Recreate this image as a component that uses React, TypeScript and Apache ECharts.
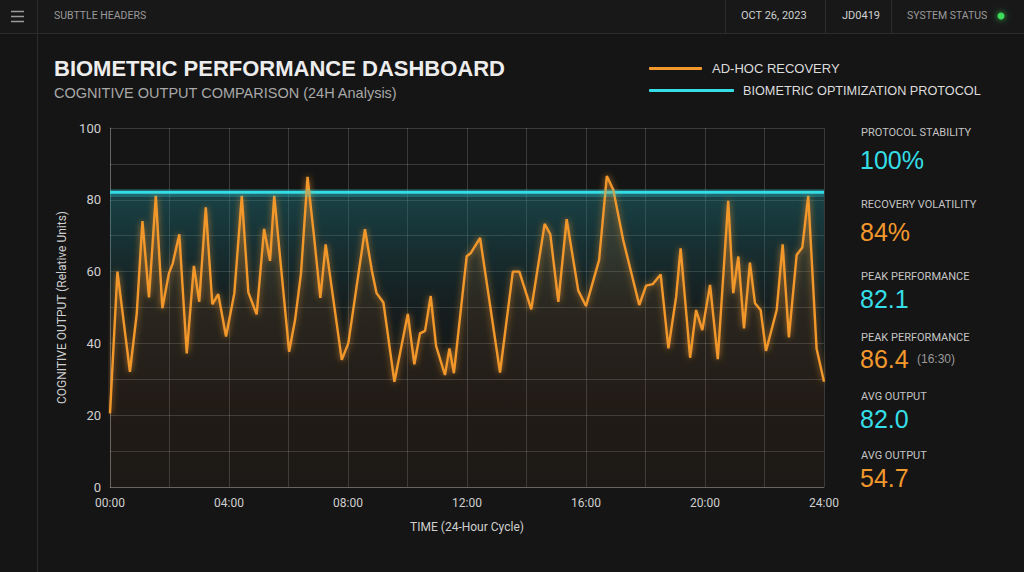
import React, { useEffect, useRef } from "react";
import * as echarts from "echarts";

const HOURS = [
  0.0, 0.25, 0.67, 0.9, 1.09, 1.31, 1.54, 1.76, 1.98, 2.11, 2.33, 2.58, 2.82, 3.0, 3.22, 3.44, 3.64, 3.9,
  4.18, 4.43, 4.65, 4.93, 5.18, 5.38, 5.52, 6.02, 6.22, 6.42, 6.64, 6.86, 7.07, 7.25, 7.79, 8.01, 8.57,
  8.8, 8.96, 9.19, 9.56, 10.01, 10.23, 10.42, 10.59, 10.78, 10.96, 11.26, 11.41, 11.56, 11.99, 12.12,
  12.44, 13.11, 13.54, 13.76, 14.16, 14.61, 14.8, 15.07, 15.35, 15.74, 16.0, 16.44, 16.7, 16.92, 17.25,
  17.79, 18.02, 18.24, 18.51, 18.77, 19.03, 19.18, 19.5, 19.7, 19.91, 20.17, 20.43, 20.78, 20.95, 21.12,
  21.31, 21.51, 21.68, 21.87, 22.05, 22.41, 22.61, 22.82, 23.08, 23.27, 23.47, 23.75, 24.0,
];
const RECOVERY = [
  20.5, 60.0, 32.1, 48.4, 74.1, 52.8, 81.1, 49.8, 59.5, 62.3, 70.4, 37.2, 61.6, 51.6, 77.9, 50.9, 53.7, 41.9,
  54.0, 81.1, 54.2, 48.1, 71.9, 63.0, 81.1, 37.7, 46.5, 59.5, 86.4, 69.7, 52.7, 67.6, 35.4, 40.0, 71.8,
  60.4, 54.0, 51.4, 29.3, 48.2, 34.2, 42.8, 43.5, 53.2, 39.3, 31.2, 38.6, 31.7, 64.3, 65.1,
  69.4, 31.9, 60.0, 60.0, 49.5, 73.3, 70.4, 51.6, 74.6, 54.7, 50.4, 63.2, 86.6, 82.7, 68.8,
  50.7, 56.1, 56.5, 59.2, 38.6, 53.0, 66.5, 36.0, 49.3, 43.7, 56.3, 35.6, 79.7, 54.0, 64.2,
  44.2, 62.5, 51.2, 49.3, 37.9, 49.3, 67.6, 41.7, 64.6, 66.7, 81.1, 38.6, 29.3,
];
const PROTOCOL_LEVEL = 82.1;
const SERIES_NAMES = ["AD-HOC RECOVERY", "BIOMETRIC OPTIMIZATION PROTOCOL"];
const HEADER_ITEMS = ["SUBTTLE HEADERS", "OCT 26, 2023", "JD0419", "SYSTEM STATUS"];
const STAT_LABELS = [
  "PROTOCOL STABILITY",
  "RECOVERY VOLATILITY",
  "PEAK PERFORMANCE",
  "PEAK PERFORMANCE",
  "AVG OUTPUT",
  "AVG OUTPUT",
];
const STAT_VALUES = ["100%", "84%", "82.1", "86.4", "82.0", "54.7"];
const STAT_NOTE = "(16:30)";

const ORANGE = "#f2982c";
const CYAN = "#35dde6";
const FONT = "'Liberation Sans', Arial, sans-serif";
const HFONT = "Roboto, 'Liberation Sans', sans-serif";

export default function App() {
  const ref = useRef<HTMLDivElement>(null);
  useEffect(() => {
    if (!ref.current) return;
    const chart = echarts.init(ref.current, null, { renderer: "svg" });
    const labelY = [133, 205, 277, 338, 397, 456];
    const valueY = [159, 231, 298, 358, 418, 477];
    const statGraphics: any[] = [];
    STAT_LABELS.forEach((l, i) => {
      statGraphics.push({
        type: "text",
        left: 861,
        top: labelY[i] - 6,
        style: { text: l, fill: "#c4c4c4", font: `11px ${HFONT}` },
      });
      statGraphics.push({
        type: "text",
        left: 860,
        top: valueY[i] - 12,
        style: { text: STAT_VALUES[i], fill: i % 2 === 0 ? CYAN : ORANGE, font: `25px ${FONT}` },
      });
    });
    statGraphics.push({
      type: "text",
      left: 917,
      top: 353,
      style: { text: STAT_NOTE, fill: "#9a9a9a", font: `12px ${FONT}` },
    });

    chart.setOption({
      animation: false,
      backgroundColor: "#151515",
      textStyle: { fontFamily: FONT },
      legend: [
        {
          data: [SERIES_NAMES[0]],
          left: 644,
          top: 57,
          icon: "roundRect",
          itemWidth: 53,
          itemHeight: 3,
          textStyle: { color: "#dcdcdc", fontSize: 13, padding: [0, 0, 0, 5] },
          selectedMode: false,
        },
        {
          data: [SERIES_NAMES[1]],
          left: 644,
          top: 79,
          icon: "roundRect",
          itemWidth: 85,
          itemHeight: 3,
          textStyle: { color: "#dcdcdc", fontSize: 12.7, padding: [0, 0, 0, 4] },
          selectedMode: false,
        },
      ],
      grid: { left: 110, right: 200, top: 128, bottom: 85 },
      xAxis: {
        type: "value",
        min: 0,
        max: 24,
        interval: 2,
        name: "TIME (24-Hour Cycle)",
        nameLocation: "middle",
        nameGap: 34,
        nameTextStyle: { color: "#cfcfcf", fontSize: 12, fontFamily: HFONT },
        axisLine: { show: true, lineStyle: { color: "rgba(255,255,255,0.22)" } },
        axisTick: { show: false },
        axisLabel: {
          color: "#cfcfcf",
          fontSize: 12,
          fontFamily: HFONT,
          margin: 10,
          formatter: (v: number) => (v % 4 === 0 ? `${String(v).padStart(2, "0")}:00` : ""),
        },
        splitLine: { show: true, lineStyle: { color: "rgba(255,255,255,0.16)" } },
      },
      yAxis: {
        type: "value",
        min: 0,
        max: 100,
        interval: 10,
        name: "COGNITIVE OUTPUT (Relative Units)",
        nameLocation: "middle",
        nameRotate: 90,
        nameGap: 42,
        nameTextStyle: { color: "#cfcfcf", fontSize: 12, fontFamily: HFONT },
        axisLine: { show: true, lineStyle: { color: "rgba(255,255,255,0.22)" } },
        axisTick: { show: false },
        axisLabel: {
          color: "#cfcfcf",
          fontSize: 13,
          fontFamily: HFONT,
          margin: 9,
          formatter: (v: number) => (v % 20 === 0 ? String(v) : ""),
        },
        splitLine: { show: true, lineStyle: { color: "rgba(255,255,255,0.16)" } },
      },
      series: [
        {
          name: SERIES_NAMES[1],
          type: "line",
          data: [
            [0, PROTOCOL_LEVEL],
            [24, PROTOCOL_LEVEL],
          ],
          symbol: "none",
          z: 2,
          lineStyle: { color: CYAN, width: 3 },
          itemStyle: { color: CYAN },
          areaStyle: {
            color: new echarts.graphic.LinearGradient(0, 0, 0, 1, [
              { offset: 0, color: "rgba(30,130,140,0.6)" },
              { offset: 0.4, color: "rgba(25,100,110,0.15)" },
              { offset: 0.7, color: "rgba(25,100,110,0)" },
            ]),
          },
          markLine: {
            silent: true,
            symbol: "none",
            label: { show: false },
            lineStyle: { color: "rgba(53,221,230,0.25)", width: 8, type: "solid" },
            data: [{ yAxis: PROTOCOL_LEVEL }],
          },
        },
        {
          name: SERIES_NAMES[0],
          type: "line",
          data: HOURS.map((h, i) => [h, RECOVERY[i]]),
          symbol: "none",
          z: 3,
          lineStyle: { color: ORANGE, width: 2.4, shadowColor: "rgba(240,150,46,0.7)", shadowBlur: 6 },
          itemStyle: { color: ORANGE },
          areaStyle: {
            color: new echarts.graphic.LinearGradient(0, 0, 0, 1, [
              { offset: 0, color: "rgba(200,120,40,0.28)" },
              { offset: 0.5, color: "rgba(180,100,35,0.16)" },
              { offset: 1, color: "rgba(150,90,40,0.08)" },
            ]),
          },
        },
      ],
      graphic: [
        { type: "rect", shape: { x: 0, y: 0, width: 1024, height: 33 }, style: { fill: "#181818" }, z: -1 },
        { type: "line", shape: { x1: 0, y1: 33.5, x2: 1024, y2: 33.5 }, style: { stroke: "#2c2c2c", lineWidth: 1 } },
        { type: "line", shape: { x1: 37.5, y1: 0, x2: 37.5, y2: 572 }, style: { stroke: "#2c2c2c", lineWidth: 1 } },
        { type: "line", shape: { x1: 725.5, y1: 0, x2: 725.5, y2: 33 }, style: { stroke: "#2c2c2c", lineWidth: 1 } },
        { type: "line", shape: { x1: 825.5, y1: 0, x2: 825.5, y2: 33 }, style: { stroke: "#2c2c2c", lineWidth: 1 } },
        { type: "line", shape: { x1: 891.5, y1: 0, x2: 891.5, y2: 33 }, style: { stroke: "#2c2c2c", lineWidth: 1 } },
        { type: "line", shape: { x1: 11, y1: 11.5, x2: 24, y2: 11.5 }, style: { stroke: "#9a9a9a", lineWidth: 1.5 } },
        { type: "line", shape: { x1: 11, y1: 16.5, x2: 24, y2: 16.5 }, style: { stroke: "#9a9a9a", lineWidth: 1.5 } },
        { type: "line", shape: { x1: 11, y1: 21.5, x2: 24, y2: 21.5 }, style: { stroke: "#9a9a9a", lineWidth: 1.5 } },
        { type: "text", left: 54, top: 10, style: { text: HEADER_ITEMS[0], fill: "#9a9a9a", font: `10.5px ${HFONT}` } },
        { type: "text", left: 741, top: 10, style: { text: HEADER_ITEMS[1], fill: "#d0d0d0", font: `11px ${HFONT}` } },
        { type: "text", left: 842, top: 10, style: { text: HEADER_ITEMS[2], fill: "#d0d0d0", font: `11px ${HFONT}` } },
        { type: "text", left: 907, top: 10, style: { text: HEADER_ITEMS[3], fill: "#9a9a9a", font: `10.5px ${HFONT}` } },
        {
          type: "circle",
          shape: { cx: 1001, cy: 16, r: 3.5 },
          style: { fill: "#3ddc5a", shadowColor: "rgba(61,220,90,0.9)", shadowBlur: 6 },
        },
        {
          type: "text",
          left: 54,
          top: 57,
          style: { text: "BIOMETRIC PERFORMANCE DASHBOARD", fill: "#ededed", font: `bold 22px ${FONT}` },
        },
        {
          type: "text",
          left: 54,
          top: 85,
          style: { text: "COGNITIVE OUTPUT COMPARISON (24H Analysis)", fill: "#a8a8a8", font: `14.5px ${FONT}` },
        },
        ...statGraphics,
      ],
    });
    return () => chart.dispose();
  }, []);
  return <div ref={ref} style={{ position: "fixed", left: 0, top: 0, width: 1024, height: 572 }} />;
}
